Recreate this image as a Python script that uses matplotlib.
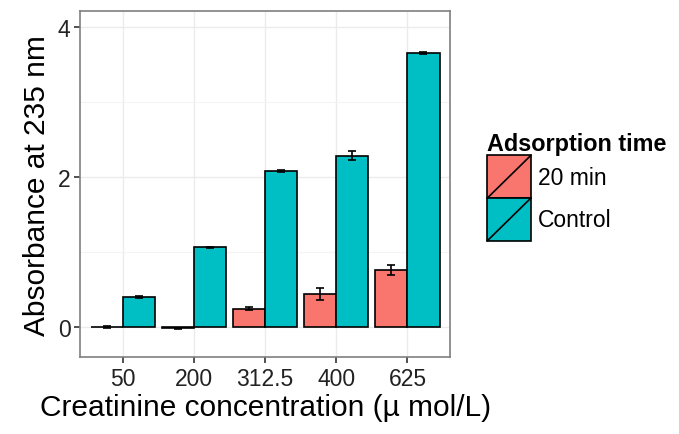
import numpy as np
import matplotlib.pyplot as plt
from matplotlib.patches import Rectangle
from matplotlib.lines import Line2D
from matplotlib.legend_handler import HandlerPatch

plt.rcParams['font.family'] = ['Liberation Sans', 'DejaVu Sans']

# --- Data ---
concentrations = ['50', '200', '312.5', '400', '625']
min20_values = [0.00, -0.02, 0.24, 0.44, 0.76]
min20_errors = [0.01, 0.01, 0.02, 0.08, 0.066]
control_values = [0.40, 1.06, 2.08, 2.28, 3.65]
control_errors = [0.01, 0.005, 0.015, 0.06, 0.01]
series_labels = ['20 min', 'Control']

RED = '#F8766D'
TEAL = '#00BFC4'


class SlashHandler(HandlerPatch):
    # ggplot-style bar key: filled box with a diagonal stroke
    def create_artists(self, legend, orig_handle, xdescent, ydescent,
                       width, height, fontsize, trans):
        rect = Rectangle((-xdescent, -ydescent), width, height,
                         facecolor=orig_handle.get_facecolor(),
                         edgecolor='black', linewidth=1.2, transform=trans)
        line = Line2D([-xdescent, -xdescent + width],
                      [-ydescent, -ydescent + height],
                      color='black', linewidth=1.2, transform=trans)
        return [rect, line]


fig = plt.figure(figsize=(6.79, 4.35), dpi=100)
ax = fig.add_axes([0.118, 0.177, 0.545, 0.795])

x = np.arange(1, len(concentrations) + 1)
w = 0.45

b1 = ax.bar(x - w / 2, min20_values, w, color=RED, edgecolor='black',
            linewidth=1.2, label=series_labels[0], zorder=3)
b2 = ax.bar(x + w / 2, control_values, w, color=TEAL, edgecolor='black',
            linewidth=1.2, label=series_labels[1], zorder=3)
ax.errorbar(x - w / 2, min20_values, yerr=min20_errors, fmt='none',
            ecolor='black', elinewidth=1.2, capsize=3, capthick=1.2, zorder=4)
ax.errorbar(x + w / 2, control_values, yerr=control_errors, fmt='none',
            ecolor='black', elinewidth=1.2, capsize=3, capthick=1.2, zorder=4)

ax.set_xlim(0.4, 5.6)
ax.set_ylim(-0.4, 4.21)
ax.set_xticks(x)
ax.set_xticklabels(concentrations)
ax.set_yticks([0, 2, 4])
ax.set_yticks([1, 3], minor=True)

ax.grid(which='major', color='#ebebeb', linewidth=1.0, zorder=0)
ax.grid(which='minor', axis='y', color='#f4f4f4', linewidth=0.8, zorder=0)
ax.set_axisbelow(True)

for s in ax.spines.values():
    s.set_color('#7f7f7f')
    s.set_linewidth(1.2)

ax.tick_params(which='major', length=4, width=1.2, color='#333333',
               labelsize=16.5, labelcolor='#222222', direction='out', pad=3)
ax.tick_params(which='minor', length=0)

ax.set_xlabel('Creatinine concentration (\u00b5 mol/L)', fontsize=21.5, labelpad=2)
ax.set_ylabel('Absorbance at 235 nm', fontsize=21.5, labelpad=5)

leg = fig.legend(handles=[b1.patches[0], b2.patches[0]], labels=series_labels,
                 handler_map={Rectangle: SlashHandler()},
                 loc='upper left', bbox_to_anchor=(0.701, 0.72),
                 frameon=False, fontsize=16.5, title='Adsorption time',
                 title_fontproperties={'weight': 'bold', 'size': 16.8},
                 handlelength=1.9, handleheight=2.49, handletextpad=0.3,
                 labelspacing=0.0, borderpad=0.0, alignment='left')

fig.savefig('out.png', dpi=100)
